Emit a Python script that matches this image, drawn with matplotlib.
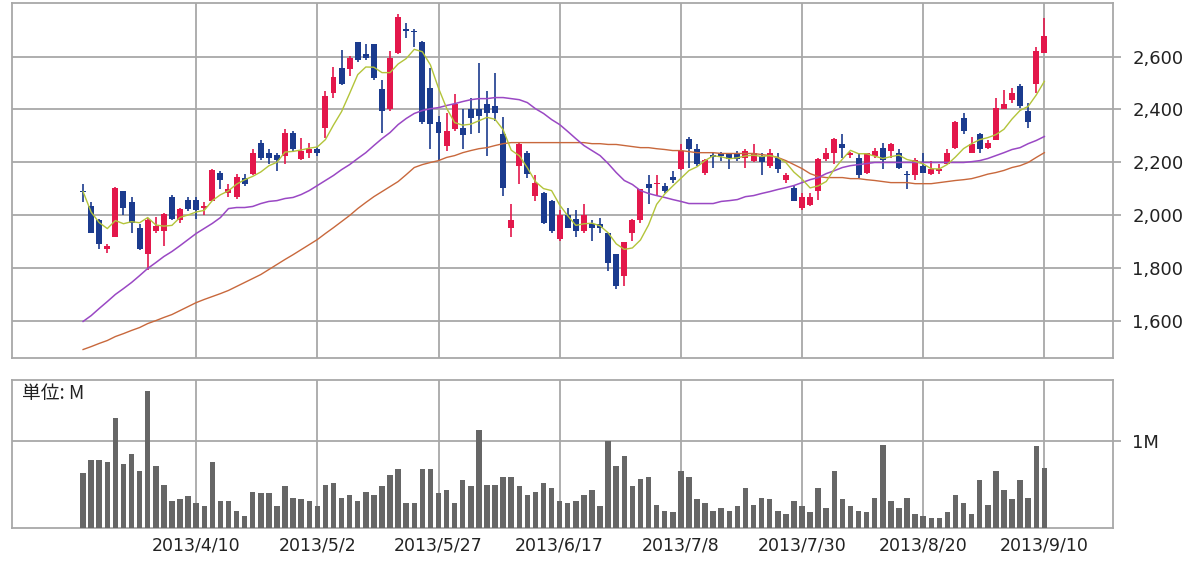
import numpy as np
import matplotlib
matplotlib.use("Agg")
import matplotlib.pyplot as plt
import matplotlib.ticker as mticker

plt.rcParams["font.family"] = ["DejaVu Sans", "Noto Sans CJK JP"]

# ── Daily OHLC (2013/3/21 – 2013/9/10, 120 trading days) ─────────────────────
OPEN = [2092, 2037, 1981, 1875, 1917, 2094, 2049, 1954, 1856, 1943,
        1943, 2068, 1981, 2060, 2060, 2030, 2056, 2162, 2086, 2068,
        2143, 2158, 2275, 2237, 2230, 2226, 2313, 2215, 2237, 2252,
        2332, 2464, 2558, 2551, 2653, 2611, 2649, 2479, 2400, 2615,
        2702, 2698, 2653, 2483, 2351, 2264, 2328, 2332, 2400, 2403,
        2422, 2415, 2309, 1954, 2188, 2237, 2075, 2086, 2056, 1913,
        2000, 1985, 1943, 1969, 1969, 1932, 1856, 1773, 1935, 1981,
        2120, 2117, 2113, 2147, 2177, 2290, 2252, 2162, 2230, 2234,
        2234, 2234, 2218, 2207, 2226, 2188, 2218, 2132, 2105, 2030,
        2041, 2094, 2215, 2234, 2271, 2230, 2218, 2162, 2226, 2256,
        2245, 2237, 2158, 2151, 2188, 2158, 2166, 2196, 2256, 2366,
        2237, 2309, 2256, 2283, 2403, 2434, 2490, 2396, 2498, 2615]
HIGH = [2120, 2049, 1988, 1894, 2109, 2094, 2068, 1969, 1992, 1996,
        2011, 2079, 2030, 2068, 2071, 2049, 2177, 2169, 2120, 2155,
        2158, 2249, 2286, 2249, 2237, 2328, 2317, 2294, 2275, 2260,
        2468, 2562, 2626, 2603, 2656, 2649, 2649, 2513, 2619, 2762,
        2728, 2705, 2660, 2558, 2377, 2385, 2460, 2400, 2445, 2577,
        2471, 2536, 2370, 2045, 2275, 2245, 2151, 2090, 2060, 2019,
        2030, 2019, 2045, 1981, 1992, 1935, 1856, 1901, 1988, 2101,
        2151, 2151, 2124, 2166, 2271, 2298, 2271, 2215, 2237, 2241,
        2237, 2245, 2252, 2271, 2234, 2249, 2234, 2162, 2113, 2086,
        2083, 2218, 2256, 2294, 2309, 2241, 2234, 2237, 2256, 2275,
        2275, 2252, 2166, 2218, 2234, 2207, 2196, 2252, 2358, 2385,
        2298, 2313, 2283, 2445, 2475, 2483, 2498, 2426, 2634, 2747]
LOW = [2049, 1932, 1875, 1860, 1917, 2000, 1932, 1868, 1796, 1932,
       1886, 1981, 1973, 2015, 1988, 2000, 2056, 2101, 2068, 2064,
       2113, 2151, 2211, 2196, 2166, 2196, 2245, 2211, 2218, 2226,
       2294, 2445, 2494, 2528, 2581, 2588, 2513, 2313, 2396, 2611,
       2668, 2634, 2347, 2252, 2207, 2245, 2320, 2252, 2309, 2313,
       2226, 2358, 2075, 1917, 2120, 2143, 2056, 1969, 1935, 1905,
       1951, 1917, 1935, 1905, 1935, 1792, 1724, 1735, 1905, 1973,
       2045, 2075, 2086, 2124, 2173, 2181, 2188, 2151, 2181, 2207,
       2177, 2207, 2181, 2200, 2151, 2181, 2162, 2124, 2053, 2019,
       2037, 2060, 2207, 2196, 2218, 2218, 2143, 2158, 2218, 2177,
       2218, 2177, 2101, 2132, 2162, 2151, 2158, 2196, 2252, 2309,
       2234, 2234, 2252, 2283, 2403, 2426, 2407, 2332, 2464, 2615]
CLOSE = [2090, 1935, 1894, 1883, 2102, 2030, 1973, 1875, 1981, 1962,
         2007, 1988, 2026, 2026, 2019, 2037, 2173, 2135, 2101, 2145,
         2120, 2237, 2218, 2218, 2211, 2313, 2249, 2245, 2252, 2234,
         2452, 2524, 2498, 2596, 2588, 2596, 2520, 2396, 2596, 2751,
         2698, 2694, 2351, 2347, 2313, 2320, 2422, 2302, 2366, 2377,
         2385, 2385, 2105, 1981, 2271, 2158, 2124, 1973, 1943, 2000,
         1954, 1943, 2003, 1954, 1951, 1822, 1735, 1898, 1981, 2101,
         2105, 2124, 2094, 2132, 2245, 2252, 2196, 2211, 2222, 2226,
         2215, 2215, 2245, 2237, 2200, 2234, 2177, 2151, 2056, 2068,
         2068, 2215, 2234, 2290, 2256, 2234, 2151, 2234, 2245, 2211,
         2268, 2181, 2151, 2211, 2162, 2177, 2177, 2237, 2351, 2320,
         2271, 2252, 2275, 2407, 2422, 2464, 2415, 2351, 2622, 2679]

# 25-day and 75-day moving averages as drawn on the chart
MA25 = [1600, 1622, 1649, 1675, 1702, 1724, 1747, 1773, 1800, 1822,
        1845, 1864, 1886, 1909, 1932, 1951, 1970, 1992, 2026, 2030,
        2030, 2034, 2045, 2053, 2056, 2064, 2068, 2079, 2094, 2113,
        2132, 2151, 2173, 2192, 2215, 2237, 2264, 2290, 2313, 2343,
        2366, 2385, 2396, 2403, 2407, 2415, 2422, 2430, 2437, 2441,
        2441, 2445, 2445, 2441, 2437, 2426, 2403, 2385, 2362, 2343,
        2317, 2290, 2264, 2245, 2226, 2196, 2162, 2132, 2117, 2094,
        2083, 2075, 2068, 2060, 2053, 2045, 2045, 2045, 2045, 2053,
        2056, 2060, 2071, 2075, 2083, 2090, 2098, 2105, 2113, 2124,
        2135, 2143, 2158, 2169, 2181, 2188, 2192, 2196, 2200, 2200,
        2200, 2200, 2200, 2200, 2200, 2200, 2200, 2200, 2200, 2200,
        2203, 2207, 2215, 2226, 2237, 2249, 2256, 2271, 2283, 2298]
MA75 = [1494, 1505, 1517, 1528, 1543, 1554, 1566, 1577, 1592, 1603,
        1615, 1626, 1641, 1656, 1671, 1683, 1694, 1705, 1717, 1732,
        1747, 1762, 1777, 1796, 1815, 1834, 1852, 1871, 1890, 1909,
        1932, 1954, 1977, 2000, 2026, 2049, 2071, 2090, 2109, 2128,
        2154, 2181, 2192, 2200, 2207, 2219, 2226, 2237, 2245, 2252,
        2256, 2264, 2271, 2275, 2275, 2275, 2275, 2275, 2275, 2275,
        2275, 2275, 2275, 2271, 2271, 2268, 2268, 2264, 2260, 2256,
        2256, 2252, 2249, 2245, 2245, 2241, 2237, 2237, 2237, 2234,
        2234, 2234, 2234, 2234, 2230, 2226, 2219, 2207, 2192, 2177,
        2158, 2147, 2143, 2143, 2143, 2139, 2139, 2135, 2132, 2128,
        2124, 2124, 2124, 2120, 2120, 2120, 2124, 2128, 2132, 2135,
        2139, 2147, 2156, 2162, 2170, 2181, 2188, 2200, 2219, 2237]

# Volume (millions of shares)
VOLUME = [0.63, 0.78, 0.78, 0.76, 1.27, 0.74, 0.85, 0.66, 1.58, 0.71,
          0.50, 0.31, 0.33, 0.37, 0.29, 0.25, 0.76, 0.31, 0.31, 0.20,
          0.14, 0.42, 0.40, 0.40, 0.25, 0.48, 0.35, 0.33, 0.31, 0.25,
          0.50, 0.52, 0.35, 0.38, 0.31, 0.42, 0.38, 0.48, 0.61, 0.68,
          0.29, 0.29, 0.68, 0.68, 0.40, 0.44, 0.29, 0.55, 0.48, 1.13,
          0.50, 0.50, 0.59, 0.59, 0.48, 0.38, 0.42, 0.52, 0.46, 0.31,
          0.29, 0.31, 0.38, 0.44, 0.25, 1.00, 0.72, 0.83, 0.48, 0.57,
          0.59, 0.27, 0.20, 0.18, 0.66, 0.59, 0.33, 0.29, 0.20, 0.23,
          0.20, 0.25, 0.46, 0.27, 0.35, 0.33, 0.20, 0.16, 0.31, 0.25,
          0.18, 0.46, 0.23, 0.66, 0.33, 0.25, 0.20, 0.18, 0.35, 0.96,
          0.31, 0.23, 0.35, 0.16, 0.14, 0.12, 0.12, 0.18, 0.38, 0.29,
          0.16, 0.55, 0.27, 0.66, 0.44, 0.33, 0.55, 0.35, 0.94, 0.69]

DATE_LABELS = ["2013/4/10", "2013/5/2", "2013/5/27", "2013/6/17",
               "2013/7/8", "2013/7/30", "2013/8/20", "2013/9/10"]
DATE_IDX = [14, 29, 44, 59, 74, 89, 104, 119]
PRICE_TICKS = [1600, 1800, 2000, 2200, 2400, 2600]

# ── Styling ───────────────────────────────────────────────────────────────────
UP_COL = "#e3174b"
DN_COL = "#1b3b8e"
GRID = "#a8a8a8"
MA5_COL = "#b3c43a"
MA25_COL = "#9a48c4"
MA75_COL = "#c8683c"

o = np.array(OPEN, float)
h = np.array(HIGH, float)
l = np.array(LOW, float)
c = np.array(CLOSE, float)
x = np.arange(len(c))
ma5 = np.array([c[max(0, i - 4):i + 1].mean() for i in range(len(c))])

fig = plt.figure(figsize=(12, 5.75), dpi=100)
ax_p = fig.add_axes([0.01, 0.3774, 0.9175, 0.6174])
ax_v = fig.add_axes([0.01, 0.0817, 0.9175, 0.2574])

XLIM = (-8.8, 127.5)

for ax in (ax_p, ax_v):
    ax.set_xlim(*XLIM)
    for sp in ax.spines.values():
        sp.set_color(GRID)
        sp.set_linewidth(1.3)
    ax.set_xticks(DATE_IDX)
    ax.grid(True, color=GRID, lw=1.3)
    ax.set_axisbelow(True)
    ax.yaxis.tick_right()
    ax.tick_params(axis="x", length=0)
    ax.tick_params(axis="y", length=6, width=1.3, color=GRID,
                   labelsize=13, pad=8, labelcolor="#222222")

# ── Price panel ───────────────────────────────────────────────────────────────
ax_p.set_ylim(1462, 2802)
ax_p.set_yticks(PRICE_TICKS)
ax_p.yaxis.set_major_formatter(mticker.FuncFormatter(lambda v, p: f"{v:,.0f}"))
ax_p.set_xticklabels([])

up = c >= o
cols = np.where(up, UP_COL, DN_COL)
ax_p.vlines(x, l, h, colors=cols, lw=1.2, zorder=2)
body_lo = np.minimum(o, c)
body_h = np.maximum(np.abs(c - o), 4)
ax_p.bar(x, body_h, bottom=body_lo, width=0.74, color=cols, lw=0, zorder=3)

ax_p.plot(x, MA75, color=MA75_COL, lw=1.0, zorder=4)
ax_p.plot(x, MA25, color=MA25_COL, lw=1.1, zorder=4)
ax_p.plot(x, ma5, color=MA5_COL, lw=1.0, zorder=4)

# ── Volume panel ──────────────────────────────────────────────────────────────
ax_v.bar(x, VOLUME, width=0.68, color="#666666", lw=0, zorder=3)
ax_v.set_ylim(0, 1.706)
ax_v.set_yticks([1.0])
ax_v.set_yticklabels(["1M"])
ax_v.set_xticklabels(DATE_LABELS, fontsize=12.5, color="#222222")
ax_v.tick_params(axis="x", pad=6)
ax_v.text(0.009, 0.91, "単位: M", transform=ax_v.transAxes, fontsize=13.5,
          va="center", ha="left", color="#222222",
          family=["Noto Sans CJK JP", "DejaVu Sans"])

fig.savefig("out.png", dpi=100)
